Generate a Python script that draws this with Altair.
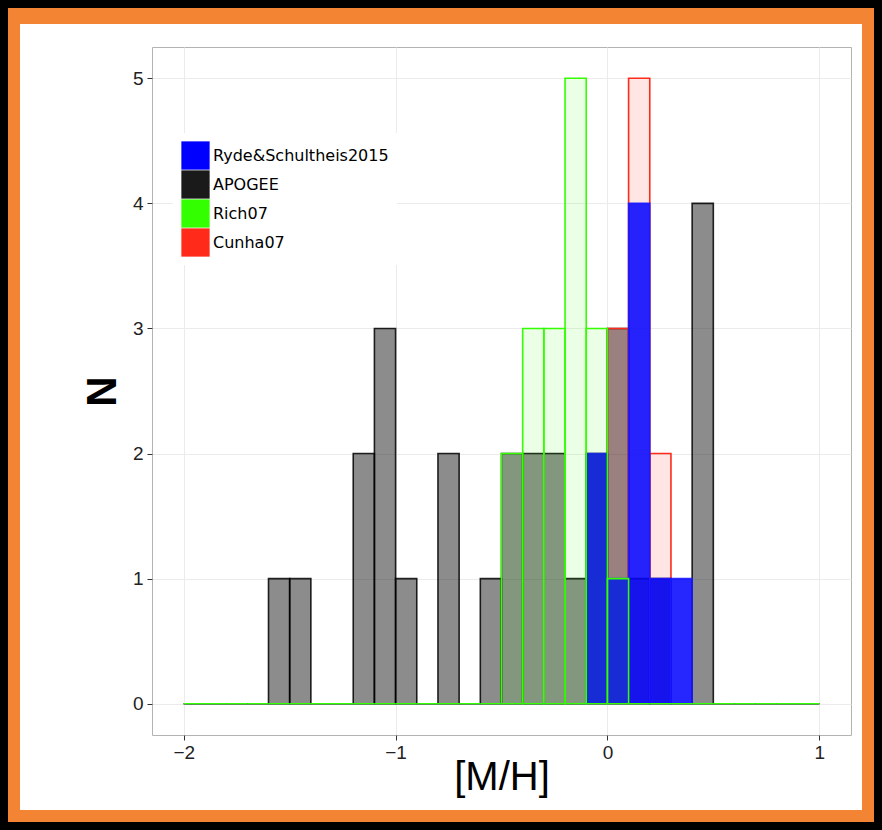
import altair as alt
import pandas as pd

# Histogram bins of [M/H], width 0.1 dex, from -2.0 to 1.0
bin_lo = [-2.0, -1.9, -1.8, -1.7, -1.6, -1.5, -1.4, -1.3, -1.2, -1.1,
          -1.0, -0.9, -0.8, -0.7, -0.6, -0.5, -0.4, -0.3, -0.2, -0.1,
          0.0, 0.1, 0.2, 0.3, 0.4, 0.5, 0.6, 0.7, 0.8, 0.9]
bin_width = 0.1

# Number of stars per bin for each sample
apogee = [0, 0, 0, 0, 1, 1, 0, 0, 2, 3, 1, 0, 2, 0, 1,
          2, 2, 2, 1, 2, 3, 1, 1, 0, 4, 0, 0, 0, 0, 0]
cunha07 = [0, 0, 0, 0, 0, 0, 0, 0, 0, 0, 0, 0, 0, 0, 0,
           0, 0, 0, 0, 0, 3, 5, 2, 0, 0, 0, 0, 0, 0, 0]
ryde2015 = [0, 0, 0, 0, 0, 0, 0, 0, 0, 0, 0, 0, 0, 0, 0,
            0, 0, 0, 0, 2, 1, 4, 1, 1, 0, 0, 0, 0, 0, 0]
rich07 = [0, 0, 0, 0, 0, 0, 0, 0, 0, 0, 0, 0, 0, 0, 0,
          2, 3, 3, 5, 3, 1, 0, 0, 0, 0, 0, 0, 0, 0, 0]

names = ["Ryde&Schultheis2015", "APOGEE", "Rich07", "Cunha07"]
key_colors = ["#0000ff", "#1a1a1a", "#33ff00", "#ff2a1a"]

x_ticks = [-2, -1, 0, 1]
y_ticks = [0, 1, 2, 3, 4, 5]

W, H = 699, 688
FONT = "Liberation Sans"


def frame(name, counts):
    return pd.DataFrame({
        "lo": bin_lo,
        "hi": [round(v + bin_width, 1) for v in bin_lo],
        "n": counts,
        "zero": [0] * len(counts),
        "survey": [name] * len(counts),
    })


xscale = alt.Scale(domain=[-2.15, 1.15], nice=False, zero=False)
yscale = alt.Scale(domain=[-0.25, 5.25], nice=False, zero=False)
fill_scale = alt.Scale(domain=names, range=key_colors)

xaxis = alt.Axis(values=x_ticks, title="[M/H]", grid=True, gridColor="#ebebeb",
                 gridWidth=1, domain=False, tickColor="#333333", tickSize=5,
                 labelFont=FONT, labelFontSize=19, labelColor="#222222",
                 labelPadding=3, titleFont=FONT, titleFontSize=40,
                 titleFontWeight="normal", titleColor="black", titlePadding=-5)
yaxis = alt.Axis(values=y_ticks, title="N", grid=True, gridColor="#ebebeb",
                 gridWidth=1, domain=False, tickColor="#333333", tickSize=5,
                 labelFont=FONT, labelFontSize=19, labelColor="#222222",
                 labelPadding=4, titleFont=FONT, titleFontSize=42,
                 titleFontWeight="bold", titleColor="black", titlePadding=8)
legend = alt.Legend(title=None, orient="none", legendX=21, legendY=86,
                    symbolType="square", symbolSize=800, symbolOpacity=1,
                    symbolStrokeWidth=0, labelFont="DejaVu Sans",
                    labelFontSize=16, labelColor="black", labelLimit=400,
                    fillColor="white", padding=8, rowPadding=0, labelOffset=3)


def hist(name, counts, fill_opacity, stroke, stroke_opacity=1.0):
    return alt.Chart(frame(name, counts)).mark_rect(
        fillOpacity=fill_opacity, stroke=stroke, strokeWidth=1.6,
        strokeOpacity=stroke_opacity,
    ).encode(
        x=alt.X("lo:Q", scale=xscale, axis=xaxis),
        x2="hi:Q",
        y=alt.Y("n:Q", scale=yscale, axis=yaxis),
        y2="zero:Q",
        fill=alt.Fill("survey:N", scale=fill_scale, legend=legend),
    )


apogee_layer = hist("APOGEE", apogee, 0.5, "#000000", 0.85)
cunha_layer = hist("Cunha07", cunha07, 0.12, "#ff2a1a")
ryde_layer = hist("Ryde&Schultheis2015", ryde2015, 0.85, "#1a1aff", 0.9)
rich_layer = hist("Rich07", rich07, 0.1, "#33ff00")

# Torn-paper style border around the figure
one = pd.DataFrame({"k": [0]})
border_orange = alt.Chart(one).mark_rect(
    fillOpacity=0, stroke="#f28434", strokeWidth=20
).encode(x=alt.value(-142), x2=alt.value(720), y=alt.value(-33), y2=alt.value(773))
border_black = alt.Chart(one).mark_rect(
    fillOpacity=0, stroke="#000000", strokeWidth=8
).encode(x=alt.value(-148), x2=alt.value(726), y=alt.value(-43), y2=alt.value(779))

chart = alt.layer(
    border_orange, border_black,
    apogee_layer, cunha_layer, ryde_layer, rich_layer,
).properties(
    width=W, height=H, padding=0, background="white",
).configure_view(
    stroke="#b3b3b3", strokeWidth=1,
)

chart.save("out.html", embed_options={"renderer": "svg", "actions": False})
